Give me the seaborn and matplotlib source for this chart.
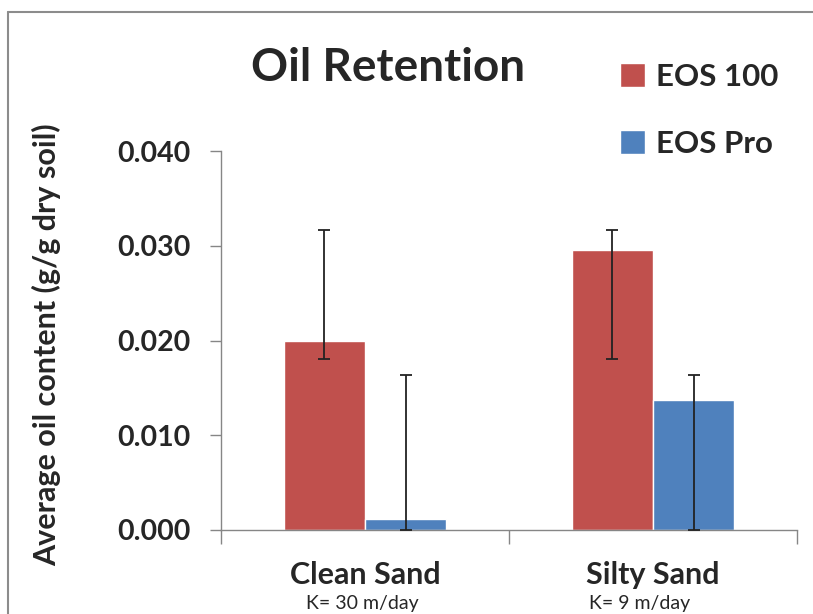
import pandas as pd
import matplotlib
matplotlib.use('Agg')
import matplotlib.pyplot as plt
import seaborn as sns
from matplotlib.lines import Line2D

# data
soils = ['Clean Sand', 'Silty Sand']
soil_notes = ['K= 30 m/day', 'K= 9 m/day']
products = ['EOS 100', 'EOS Pro']
eos100_mean = [0.0200, 0.0296]
eospro_mean = [0.0012, 0.0137]
eos100_upper = [0.0317, 0.0317]
eos100_lower = [0.0181, 0.0181]
eospro_upper = [0.0164, 0.0164]
eospro_lower = [0.0, 0.0]
yticks = [0.000, 0.010, 0.020, 0.030, 0.040]

colors = {'EOS 100': '#C0504D', 'EOS Pro': '#4F81BD'}

df = pd.DataFrame({
    'soil': soils * 2,
    'product': [products[0]] * 2 + [products[1]] * 2,
    'oil': eos100_mean + eospro_mean,
})

sns.set_style('white')
plt.rcParams['font.family'] = ['Lato', 'DejaVu Sans']

fig = plt.figure(figsize=(8.13, 6.14), dpi=100)
fig.patch.set_edgecolor('none')
fig.patch.set_linewidth(0)
ax = fig.add_axes([221 / 813, 1 - 530 / 614, (797 - 221) / 813, (530 - 151) / 614])

sns.barplot(data=df, x='soil', y='oil', hue='product', order=soils, hue_order=products,
            palette=colors, width=0.565, gap=0, errorbar=None, ax=ax, legend=True,
            saturation=1)

# error bars at the bar centres seaborn placed
uppers = eos100_upper + eospro_upper
lowers = eos100_lower + eospro_lower
means = eos100_mean + eospro_mean
bar_conts = list(ax.containers)
for i, cont in enumerate(bar_conts):
    for j, bar in enumerate(cont):
        k = i * 2 + j
        xc = bar.get_x() + bar.get_width() / 2
        m = means[k]
        ax.errorbar([xc], [m], yerr=[[m - lowers[k]], [uppers[k] - m]], fmt='none',
                    ecolor='#222222', elinewidth=1.3, capsize=4.5, capthick=1.3,
                    clip_on=False, zorder=5)

ax.set_ylim(0, 0.04)
ax.set_xlim(-0.5, 1.5)
ax.set_yticks(yticks)
ax.set_yticklabels(['%.3f' % v for v in yticks], fontsize=20.5, fontweight='bold')
ax.set_xticks([-0.5, 0.5, 1.5])
ax.set_xticklabels([])
ax.tick_params(axis='y', length=8, width=1, color='#868686', pad=14, left=True)
ax.tick_params(axis='x', length=10, width=1, color='#868686', direction='out', bottom=True)
ax.set_xlabel('')
ax.set_ylabel('')
for s in ['top', 'right']:
    ax.spines[s].set_visible(False)
for s in ['left', 'bottom']:
    ax.spines[s].set_color('#868686')
    ax.spines[s].set_linewidth(1)

note_shift = [-0.01, -0.045]
for i, (name, note) in enumerate(zip(soils, soil_notes)):
    ax.text(i, -0.0048, name, ha='center', va='center', fontsize=22, fontweight='bold')
    ax.text(i + note_shift[i], -0.0078, note, ha='center', va='center', fontsize=14)

fig.text(388 / 813, 1 - 68 / 614, 'Oil Retention', ha='center', va='center',
         fontsize=33, fontweight='bold')
fig.text(47 / 813, 1 - 345 / 614, 'Average oil content (g/g dry soil)', rotation=90,
         ha='center', va='center', fontsize=22, fontweight='bold')

handles, labels = ax.get_legend_handles_labels()
ax.legend_.remove()
fig.legend(handles, labels, loc='upper left', bbox_to_anchor=(592 / 813, 1 - 35 / 614),
           frameon=False, prop={'size': 22.5, 'weight': 'bold'}, handlelength=0.8,
           handleheight=0.8, handletextpad=0.35, labelspacing=1.25)

# chart frame, left and top edges only
fig.add_artist(Line2D([8 / 813, 8 / 813], [0, 1 - 12 / 614], transform=fig.transFigure,
                      color='#8c8c8c', linewidth=1.5))
fig.add_artist(Line2D([8 / 813, 1.0], [1 - 12 / 614, 1 - 12 / 614], transform=fig.transFigure,
                      color='#8c8c8c', linewidth=1.5))

fig.savefig('out.png', dpi=100)
